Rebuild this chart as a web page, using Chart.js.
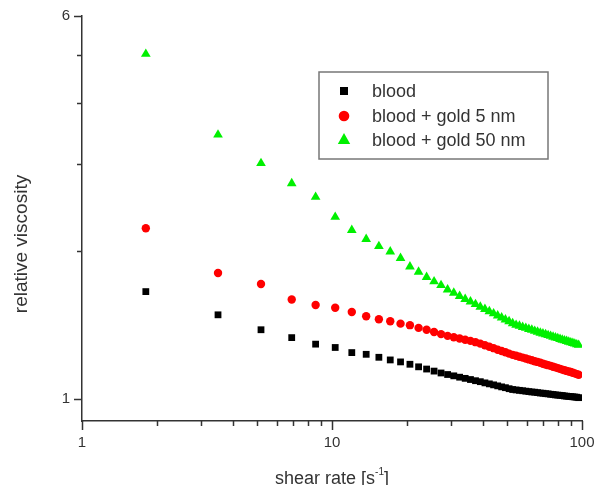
<!DOCTYPE html>
<html>
<head>
<meta charset="utf-8">
<script src="https://cdn.jsdelivr.net/npm/chart.js@4.4.1/dist/chart.umd.min.js"></script>
<style>
  html, body { margin: 0; padding: 0; background: #fff; }
  #wrap { width: 594px; height: 485px; }
</style>
</head>
<body>
<div id="wrap"><canvas id="viscChart" width="594" height="485"></canvas></div>
<script>
// shear rate [1/s] of each measured point
const shearRate = [1.8, 3.5, 5.2, 6.9, 8.6, 10.3, 12.0, 13.7, 15.4, 17.1,
  18.8, 20.5, 22.2, 23.9, 25.6, 27.3, 29.0, 30.7, 32.4, 34.1,
  35.8, 37.5, 39.2, 40.9, 42.6, 44.3, 46.0, 47.7, 49.4, 51.1,
  52.8, 54.5, 56.2, 57.9, 59.6, 61.3, 63.0, 64.7, 66.4, 68.1,
  69.8, 71.5, 73.2, 74.9, 76.6, 78.3, 80.0, 81.7, 83.4, 85.1,
  86.8, 88.5, 90.2, 91.9, 93.6, 95.3, 97.0];

// relative viscosity
const blood = [1.65, 1.48, 1.38, 1.33, 1.29, 1.27, 1.24, 1.23, 1.213, 1.198,
  1.187, 1.174, 1.160, 1.148, 1.137, 1.127, 1.119, 1.112, 1.105, 1.099,
  1.093, 1.087, 1.082, 1.076, 1.071, 1.066, 1.061, 1.056, 1.052, 1.047,
  1.043, 1.041, 1.039, 1.037, 1.035, 1.033, 1.031, 1.030, 1.028, 1.026,
  1.025, 1.023, 1.022, 1.020, 1.019, 1.017, 1.016, 1.015, 1.014, 1.012,
  1.011, 1.010, 1.009, 1.008, 1.007, 1.006, 1.004];

const bloodGold5 = [2.22, 1.80, 1.71, 1.59, 1.55, 1.53, 1.50, 1.47, 1.45, 1.436,
  1.42, 1.41, 1.392, 1.38, 1.366, 1.352, 1.341, 1.332, 1.325, 1.317,
  1.310, 1.302, 1.293, 1.283, 1.274, 1.266, 1.257, 1.249, 1.242, 1.234,
  1.227, 1.222, 1.216, 1.211, 1.206, 1.201, 1.196, 1.191, 1.187, 1.182,
  1.177, 1.173, 1.169, 1.165, 1.160, 1.157, 1.153, 1.149, 1.145, 1.142,
  1.138, 1.135, 1.132, 1.128, 1.125, 1.121, 1.118];

const bloodGold50 = [5.02, 3.44, 3.01, 2.74, 2.57, 2.34, 2.20, 2.11, 2.04, 1.99,
  1.93, 1.855, 1.81, 1.765, 1.73, 1.70, 1.665, 1.64, 1.615, 1.593,
  1.574, 1.555, 1.536, 1.520, 1.504, 1.489, 1.474, 1.460, 1.447, 1.435,
  1.422, 1.411, 1.405, 1.397, 1.391, 1.384, 1.379, 1.372, 1.366, 1.360,
  1.355, 1.350, 1.345, 1.340, 1.335, 1.330, 1.326, 1.321, 1.316, 1.312,
  1.308, 1.304, 1.300, 1.296, 1.292, 1.288, 1.285];

const seriesLabels = ['blood', 'blood + gold 5 nm', 'blood + gold 50 nm'];

const xTickValues = [1, 2, 3, 4, 5, 6, 7, 8, 9, 10, 20, 30, 40, 50, 60, 70, 80, 90, 100];
const xTickLabels = ['1', '10', '100'];
const yTickValues = [1, 2, 3, 4, 5, 6];
const yTickLabels = ['1', '6'];

const FONT = 'Arial, "Liberation Sans", sans-serif';
const AXIS_COLOR = '#333';
const TEXT_COLOR = '#333';

const toPoints = ys => ys.map((v, i) => ({ x: shearRate[i], y: v }));

// ticks, axis titles and the boxed legend, drawn on top of the chart
const decorPlugin = {
  id: 'decor',
  afterDraw(chart) {
    const ctx = chart.ctx;
    const xs = chart.scales.x;
    const ys = chart.scales.y;
    ctx.save();

    // tick marks: long for labelled values, short for the rest
    ctx.strokeStyle = AXIS_COLOR;
    ctx.lineWidth = 1.5;
    xs.ticks.forEach(t => {
      const px = Math.round(xs.getPixelForValue(t.value)) + 0.5;
      const len = t.label ? 9 : 5;
      ctx.beginPath();
      ctx.moveTo(px, xs.top);
      ctx.lineTo(px, xs.top + len);
      ctx.stroke();
    });
    ys.ticks.forEach(t => {
      const py = Math.round(ys.getPixelForValue(t.value)) + 0.5;
      const len = t.label ? 8 : 5;
      ctx.beginPath();
      ctx.moveTo(ys.right, py);
      ctx.lineTo(ys.right - len, py);
      ctx.stroke();
    });

    // axis titles
    ctx.fillStyle = TEXT_COLOR;
    ctx.font = '18px ' + FONT;
    ctx.textBaseline = 'alphabetic';
    const main = 'shear rate [s';
    const sup = '-1';
    const close = ']';
    const wMain = ctx.measureText(main).width;
    const wClose = ctx.measureText(close).width;
    ctx.font = '10px ' + FONT;
    const wSup = ctx.measureText(sup).width;
    const cx = (chart.chartArea.left + chart.chartArea.right) / 2;
    let tx = cx - (wMain + wSup + wClose) / 2;
    const ty = 484;
    ctx.font = '18px ' + FONT;
    ctx.textAlign = 'left';
    ctx.fillText(main, tx, ty);
    tx += wMain;
    ctx.font = '10px ' + FONT;
    ctx.fillText(sup, tx, ty - 9);
    tx += wSup;
    ctx.font = '18px ' + FONT;
    ctx.fillText(close, tx, ty);

    ctx.save();
    ctx.translate(22, 244);
    ctx.rotate(-Math.PI / 2);
    ctx.textAlign = 'center';
    ctx.textBaseline = 'middle';
    ctx.font = '19px ' + FONT;
    ctx.fillText('relative viscosity', 0, 0);
    ctx.restore();

    // legend box
    ctx.strokeStyle = '#777';
    ctx.lineWidth = 1.5;
    ctx.strokeRect(319, 72, 229, 87);
    const rows = [91, 116, 140];
    ctx.font = '18px ' + FONT;
    ctx.textAlign = 'left';
    ctx.textBaseline = 'middle';
    chart.data.datasets.forEach((ds, i) => {
      const mx = 344, my = rows[i];
      ctx.fillStyle = ds.backgroundColor;
      ctx.beginPath();
      if (ds.pointStyle === 'rect') {
        ctx.rect(mx - 4, my - 4, 8, 8);
      } else if (ds.pointStyle === 'circle') {
        ctx.arc(mx, my, 5.3, 0, Math.PI * 2);
      } else {
        ctx.moveTo(mx, my - 7);
        ctx.lineTo(mx + 6.2, my + 4);
        ctx.lineTo(mx - 6.2, my + 4);
        ctx.closePath();
      }
      ctx.fill();
      ctx.fillStyle = TEXT_COLOR;
      ctx.fillText(ds.label, 372, my + 1);
    });

    ctx.restore();
  }
};

const ctx = document.getElementById('viscChart').getContext('2d');
new Chart(ctx, {
  type: 'scatter',
  data: {
    datasets: [
      {
        label: seriesLabels[0],
        data: toPoints(blood),
        pointStyle: 'rect',
        pointRadius: 4.8,
        pointHoverRadius: 4.8,
        pointBorderWidth: 0,
        backgroundColor: '#000000',
        borderColor: '#000000'
      },
      {
        label: seriesLabels[1],
        data: toPoints(bloodGold5),
        pointStyle: 'circle',
        pointRadius: 4.2,
        pointHoverRadius: 4.2,
        pointBorderWidth: 0,
        backgroundColor: '#ff0000',
        borderColor: '#ff0000'
      },
      {
        label: seriesLabels[2],
        data: toPoints(bloodGold50),
        pointStyle: 'triangle',
        pointRadius: 5.6,
        pointHoverRadius: 5.6,
        pointBorderWidth: 0,
        backgroundColor: '#00f000',
        borderColor: '#00f000'
      }
    ]
  },
  options: {
    responsive: false,
    animation: false,
    layout: { padding: { top: 16, right: 12, left: 0, bottom: 0 } },
    plugins: {
      legend: { display: false },
      tooltip: { enabled: false }
    },
    scales: {
      x: {
        type: 'logarithmic',
        min: 1,
        max: 100,
        afterBuildTicks: scale => { scale.ticks = xTickValues.map(v => ({ value: v })); },
        afterFit: scale => {
          scale.height = 64;
          scale.paddingLeft = 0;
          scale.paddingRight = 0;
        },
        grid: { display: false, drawTicks: false },
        border: { display: true, color: AXIS_COLOR, width: 1.5 },
        ticks: {
          autoSkip: false,
          maxRotation: 0,
          padding: 13,
          color: TEXT_COLOR,
          font: { family: FONT, size: 15 },
          callback: v => xTickLabels.includes(String(v)) ? String(v) : ''
        }
      },
      y: {
        type: 'logarithmic',
        min: 0.9,
        max: 6,
        afterBuildTicks: scale => { scale.ticks = yTickValues.map(v => ({ value: v })); },
        afterFit: scale => {
          scale.width = 82;
          scale.paddingTop = 0;
          scale.paddingBottom = 0;
        },
        grid: { display: false, drawTicks: false },
        border: { display: true, color: AXIS_COLOR, width: 1.5 },
        ticks: {
          autoSkip: false,
          padding: 12,
          color: TEXT_COLOR,
          font: { family: FONT, size: 15 },
          callback: v => yTickLabels.includes(String(v)) ? String(v) : ''
        }
      }
    }
  },
  plugins: [decorPlugin]
});
</script>
</body>
</html>
